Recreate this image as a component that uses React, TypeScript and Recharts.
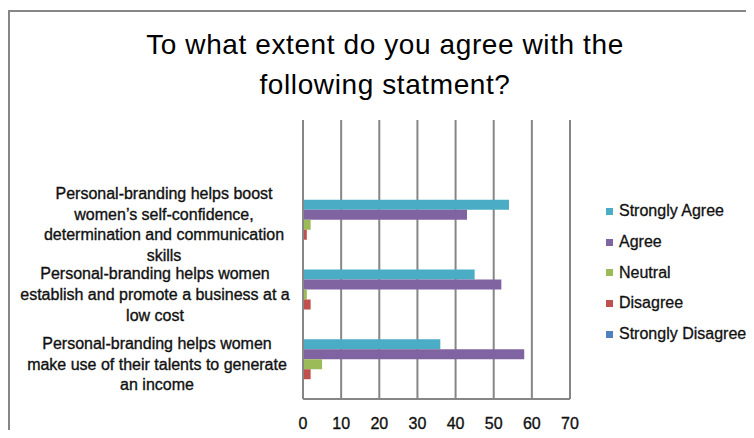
import React from 'react';
import {BarChart, Bar, XAxis, YAxis, CartesianGrid} from 'recharts';

// first row is the empty category Excel left at the top
const categories = [
  '',
  'Personal-branding helps boost women’s self-confidence, determination and communication skills',
  'Personal-branding helps women establish and promote a business at a low cost',
  'Personal-branding helps women make use of their talents to generate an income'
];

const labelLines: string[][] = [
  [],
  ['Personal-branding helps boost', 'women’s self-confidence,', 'determination and communication', 'skills'],
  ['Personal-branding helps women', 'establish and promote a business at a', 'low cost'],
  ['Personal-branding helps women', 'make use of their talents to generate', 'an income']
];
const labelCenters = [0, 164, 155, 157];

const stronglyAgree = [null, 54, 45, 36];
const agree = [null, 43, 52, 58];
const neutral = [null, 2, 1, 5];
const disagree = [null, 1, 2, 2];
const stronglyDisagree = [null, 0, 0, 0];

const xTicks = [0, 10, 20, 30, 40, 50, 60, 70];

const SERIES = [
  {key: 'stronglyAgree', name: 'Strongly Agree', color: '#4BACC6'},
  {key: 'agree', name: 'Agree', color: '#8064A2'},
  {key: 'neutral', name: 'Neutral', color: '#9BBB59'},
  {key: 'disagree', name: 'Disagree', color: '#C0504D'},
  {key: 'stronglyDisagree', name: 'Strongly Disagree', color: '#4F81BD'}
];

const data = categories.map((name, i) => ({
  name,
  stronglyAgree: stronglyAgree[i],
  agree: agree[i],
  neutral: neutral[i],
  disagree: disagree[i],
  stronglyDisagree: stronglyDisagree[i]
}));

const FONT = '"Liberation Sans", Arial, sans-serif';
const GRID = '#868686';

const CategoryTick = (props: any) => {
  const {y, index} = props;
  const lines = labelLines[index] ?? [];
  const cx = labelCenters[index] ?? 156;
  const lh = 20.7;
  const start = y - ((lines.length - 1) * lh) / 2;
  return (
    <text x={cx} y={start} textAnchor="middle" fontSize={16} fill="#111" stroke="#111" strokeWidth={0.35} fontFamily={FONT}>
      {lines.map((l, i) => (
        <tspan key={i} x={cx} y={start + i * lh} dominantBaseline="central">
          {l}
        </tspan>
      ))}
    </text>
  );
};

const ValueTick = (props: any) => {
  const {x, payload} = props;
  return (
    <text
      x={x}
      y={423}
      textAnchor="middle"
      dominantBaseline="central"
      fontSize={16}
      fill="#111"
      stroke="#111"
      strokeWidth={0.35}
      fontFamily={FONT}
    >
      {payload.value}
    </text>
  );
};

export default function App() {
  return (
    <div style={{position: 'relative', width: 754, height: 438, margin: -8, overflow: 'hidden', background: '#fff'}}>
      <div
        style={{
          position: 'absolute',
          left: 8,
          top: 10,
          width: 800,
          height: 500,
          border: `2px solid ${GRID}`,
          boxSizing: 'border-box'
        }}
      />
      <div
        style={{
          position: 'absolute',
          left: 8,
          top: 25,
          width: 754,
          textAlign: 'center',
          fontFamily: FONT,
          fontSize: 28,
          lineHeight: '40px',
          letterSpacing: 0.6,
          color: '#000'
        }}
      >
        To what extent do you agree with the
        <br />
        following statment?
      </div>
      <div style={{position: 'absolute', left: 0, top: 0}}>
        <BarChart
          width={754}
          height={438}
          data={data}
          layout="vertical"
          margin={{top: 120, right: 184, bottom: 9, left: 0}}
          barCategoryGap={10}
          barGap={0}
        >
          <CartesianGrid vertical horizontal={false} stroke={GRID} strokeWidth={2} />
          <XAxis
            type="number"
            domain={[0, 70]}
            ticks={xTicks}
            interval={0}
            height={30}
            axisLine={{stroke: GRID, strokeWidth: 2}}
            tickLine={false}
            tick={<ValueTick />}
          />
          <YAxis
            type="category"
            dataKey="name"
            width={303}
            interval={0}
            axisLine={{stroke: GRID, strokeWidth: 2}}
            tickLine={false}
            tick={<CategoryTick />}
          />
          {SERIES.map((s) => (
            <Bar key={s.key} dataKey={s.key} name={s.name} fill={s.color} isAnimationActive={false} />
          ))}
        </BarChart>
      </div>
      <div
        style={{
          position: 'absolute',
          left: 606,
          top: 196,
          fontFamily: FONT,
          fontSize: 16,
          color: '#111',
          WebkitTextStroke: '0.3px #111'
        }}
      >
        {SERIES.map((s) => (
          <div key={s.key} style={{display: 'flex', alignItems: 'center', height: 30.7}}>
            <span style={{width: 7, height: 7, background: s.color, marginRight: 6, display: 'inline-block'}} />
            <span>{s.name}</span>
          </div>
        ))}
      </div>
    </div>
  );
}
